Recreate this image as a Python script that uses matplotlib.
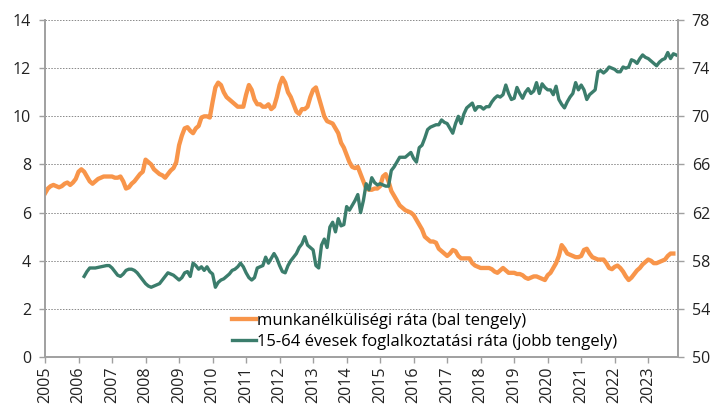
import numpy as np
import matplotlib
matplotlib.use('Agg')
import matplotlib.pyplot as plt

plt.rcParams['font.family'] = ['Open Sans', 'DejaVu Sans']

# munkanélküliségi ráta, havi adatok 2005 jan - 2023 okt (bal tengely)
unemp_2005 = [6.8, 7.0, 7.1, 7.15, 7.1, 7.05, 7.1, 7.2, 7.25, 7.15, 7.25, 7.4]
unemp_2006 = [7.7, 7.8, 7.7, 7.5, 7.3, 7.2, 7.3, 7.4, 7.45, 7.5, 7.5, 7.5]
unemp_2007 = [7.5, 7.45, 7.45, 7.5, 7.3, 7.0, 7.05, 7.2, 7.3, 7.45, 7.6, 7.7]
unemp_2008 = [8.2, 8.1, 8.0, 7.8, 7.7, 7.6, 7.55, 7.45, 7.6, 7.75, 7.85, 8.1]
unemp_2009 = [8.8, 9.2, 9.5, 9.55, 9.4, 9.3, 9.5, 9.6, 9.95, 10.0, 10.0, 9.95]
unemp_2010 = [10.6, 11.2, 11.4, 11.3, 11.0, 10.8, 10.7, 10.6, 10.5, 10.4, 10.4, 10.4]
unemp_2011 = [10.9, 11.3, 11.1, 10.7, 10.5, 10.5, 10.4, 10.4, 10.5, 10.3, 10.4, 10.8]
unemp_2012 = [11.3, 11.6, 11.4, 11.0, 10.8, 10.5, 10.2, 10.1, 10.3, 10.3, 10.4, 10.8]
unemp_2013 = [11.1, 11.2, 10.8, 10.4, 10.0, 9.8, 9.75, 9.7, 9.5, 9.3, 8.9, 8.7]
unemp_2014 = [8.4, 8.1, 7.9, 7.85, 7.9, 7.6, 7.3, 7.0, 6.95, 6.95, 7.0, 7.0]
unemp_2015 = [7.1, 7.5, 7.6, 7.3, 6.9, 6.7, 6.5, 6.3, 6.2, 6.1, 6.05, 6.0]
unemp_2016 = [5.9, 5.7, 5.5, 5.3, 5.0, 4.9, 4.8, 4.8, 4.75, 4.5, 4.4, 4.3]
unemp_2017 = [4.2, 4.3, 4.45, 4.4, 4.2, 4.1, 4.1, 4.1, 4.1, 3.9, 3.8, 3.75]
unemp_2018 = [3.7, 3.7, 3.7, 3.7, 3.65, 3.55, 3.5, 3.6, 3.7, 3.6, 3.5, 3.5]
unemp_2019 = [3.5, 3.45, 3.45, 3.4, 3.3, 3.25, 3.3, 3.35, 3.35, 3.3, 3.25, 3.2]
unemp_2020 = [3.4, 3.5, 3.7, 3.9, 4.2, 4.65, 4.5, 4.3, 4.25, 4.2, 4.15, 4.15]
unemp_2021 = [4.2, 4.45, 4.5, 4.3, 4.15, 4.1, 4.05, 4.05, 4.05, 3.9, 3.7, 3.65]
unemp_2022 = [3.75, 3.8, 3.7, 3.55, 3.35, 3.2, 3.3, 3.45, 3.6, 3.7, 3.85, 3.95]
unemp_2023 = [4.05, 4.0, 3.9, 3.9, 3.95, 4.0, 4.05, 4.2, 4.3, 4.3]

# 15-64 évesek foglalkoztatási rátája, 2006 márc - 2023 nov (jobb tengely)
emp_2006 = [56.7, 57.1, 57.4, 57.4, 57.4, 57.45, 57.5, 57.55, 57.6, 57.6]
emp_2007 = [57.4, 57.1, 56.8, 56.7, 56.9, 57.2, 57.3, 57.3, 57.2, 57.0, 56.7, 56.4]
emp_2008 = [56.1, 55.9, 55.8, 55.9, 56.0, 56.1, 56.4, 56.7, 57.0, 56.9, 56.8, 56.6]
emp_2009 = [56.4, 56.6, 57.0, 57.1, 56.7, 57.8, 57.6, 57.3, 57.5, 57.2, 57.5, 57.1]
emp_2010 = [56.9, 55.8, 56.2, 56.4, 56.5, 56.7, 56.9, 57.2, 57.3, 57.5, 57.8, 57.5]
emp_2011 = [57.0, 56.6, 56.4, 56.6, 57.4, 57.5, 57.6, 58.3, 57.8, 58.2, 58.6, 58.2]
emp_2012 = [57.6, 57.1, 57.0, 57.6, 58.0, 58.3, 58.6, 59.1, 59.4, 60.0, 59.3, 59.1]
emp_2013 = [58.9, 57.6, 57.4, 59.3, 59.8, 59.1, 60.8, 61.2, 60.4, 61.5, 60.9, 61.0]
emp_2014 = [62.5, 62.2, 62.6, 63.0, 63.5, 62.0, 63.0, 64.4, 63.9, 64.9, 64.5, 64.3]
emp_2015 = [64.4, 64.3, 64.2, 64.2, 65.5, 65.8, 66.2, 66.6, 66.6, 66.6, 66.8, 67.0]
emp_2016 = [66.5, 66.2, 67.4, 67.6, 68.2, 68.9, 69.1, 69.2, 69.3, 69.3, 69.7, 69.5]
emp_2017 = [69.4, 69.0, 68.6, 69.4, 70.0, 69.4, 70.2, 70.7, 70.9, 71.1, 70.5, 70.8]
emp_2018 = [70.8, 70.6, 70.8, 70.8, 71.2, 71.5, 71.7, 71.6, 71.8, 72.6, 71.9, 71.4]
emp_2019 = [71.5, 72.4, 71.9, 71.5, 72.0, 72.3, 71.9, 72.1, 72.8, 71.9, 72.7, 72.4]
emp_2020 = [72.2, 72.2, 71.8, 72.5, 71.4, 71.0, 70.7, 71.2, 71.6, 71.9, 72.8, 72.2]
emp_2021 = [72.6, 72.2, 71.4, 71.8, 72.0, 72.2, 73.7, 73.8, 73.6, 73.8, 74.1, 74.0]
emp_2022 = [73.9, 73.7, 73.7, 74.1, 74.0, 74.1, 74.7, 74.6, 74.4, 74.8, 75.1, 74.9]
emp_2023 = [74.8, 74.6, 74.4, 74.2, 74.5, 74.7, 74.8, 75.3, 74.8, 75.2, 75.1]

unemp = (unemp_2005 + unemp_2006 + unemp_2007 + unemp_2008 + unemp_2009 + unemp_2010
         + unemp_2011 + unemp_2012 + unemp_2013 + unemp_2014 + unemp_2015 + unemp_2016
         + unemp_2017 + unemp_2018 + unemp_2019 + unemp_2020 + unemp_2021 + unemp_2022
         + unemp_2023)
emp = (emp_2006 + emp_2007 + emp_2008 + emp_2009 + emp_2010 + emp_2011 + emp_2012
       + emp_2013 + emp_2014 + emp_2015 + emp_2016 + emp_2017 + emp_2018 + emp_2019
       + emp_2020 + emp_2021 + emp_2022 + emp_2023)

years = list(range(2005, 2024))
x_unemp = 2005 + np.arange(len(unemp)) / 12
x_emp = 2006 + 2 / 12 + np.arange(len(emp)) / 12

orange = '#F8954A'
green = '#3B7D6C'
grey = '#A0A0A0'

fig = plt.figure(figsize=(7.15, 4.09), dpi=100)
ax = fig.add_axes([0.063, 0.127, 0.885, 0.824])
ax2 = ax.twinx()

l1, = ax.plot(x_unemp, unemp, color=orange, lw=3.1, solid_joinstyle='round',
              label='munkanélküliségi ráta (bal tengely)')
l2, = ax2.plot(x_emp, emp, color=green, lw=2.4, solid_joinstyle='round',
               label='15-64 évesek foglalkoztatási ráta (jobb tengely)')

ax.set_xlim(2005, 2023 + 10.6 / 12)
ax.set_ylim(0, 14)
ax2.set_ylim(50, 78)
ax.set_yticks(range(0, 15, 2))
ax2.set_yticks(range(50, 79, 4))
ax.set_xticks(years)
ax.set_xticklabels([str(y) for y in years], rotation=90)

ax.grid(axis='y', color='#888888', linestyle=(0, (1.5, 1.5)), linewidth=0.7)
ax.set_axisbelow(True)

for a in (ax, ax2):
    a.spines['top'].set_visible(False)
    for s in ('left', 'right', 'bottom'):
        a.spines[s].set_color(grey)
        a.spines[s].set_linewidth(1.2)
    a.tick_params(colors=grey, labelcolor='#222222', labelsize=11.5, length=4, width=1)
ax.tick_params(axis='y', pad=6)
ax2.tick_params(axis='y', pad=6)
ax.tick_params(axis='x', pad=3)

leg = ax2.legend(handles=[l1, l2], loc='upper left', bbox_to_anchor=(0.325, 0.235),
                 bbox_transform=fig.transFigure, frameon=False, fontsize=12,
                 handlelength=1.4, handletextpad=0.05, labelspacing=0.3,
                 borderaxespad=0, borderpad=0)

fig.savefig('out.png', dpi=100)
